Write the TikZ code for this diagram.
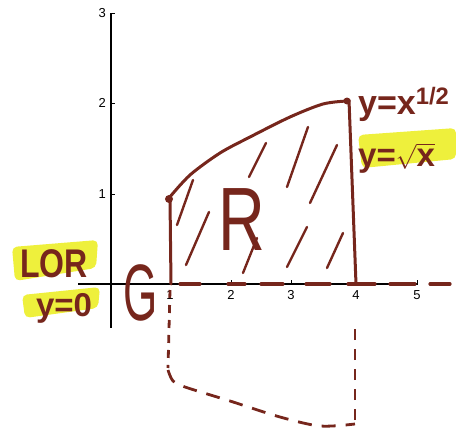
\documentclass[tikz,border=0pt]{standalone}
\usepackage{fontspec}
\setmainfont{Liberation Sans}
\usepackage{graphicx}
\definecolor{ink}{RGB}{118,38,28}
\definecolor{hl}{RGB}{238,240,60}
\tikzset{
  axisline/.style={black, line width=1.4pt},
  ticklab/.style={font=\fontsize{13}{13}\selectfont, inner sep=0pt},
  inkline/.style={ink, line width=3pt, line cap=round, line join=round},
  hatchline/.style={ink, line width=2.4pt, line cap=round},
  inkdash/.style={ink, line width=3.2pt, line cap=round},
  hand/.style={ink, inner sep=0pt},
  hlbox/.style={hl, rounded corners=5pt}
}
\begin{document}
\begin{tikzpicture}[x=1pt,y=-1pt]
\useasboundingbox (0,0) rectangle (456,431);
% highlights
\fill[hlbox] (12,247) -- (98,240) -- (96,268) -- (15,281) -- cycle;
\fill[hlbox] (22,295) -- (100,287) -- (98,308) -- (25,318) -- cycle;
\fill[hlbox] (358,135) -- (456,128) -- (456,159) -- (362,168) -- cycle;
% axes
\draw[axisline] (111,13) -- (111,328);
\draw[axisline] (78,284) -- (418,284);
\foreach \yy/\lab in {13/3,103/2,194/1} {
  \draw[axisline, line width=1pt] (111,\yy) -- (115,\yy);
  \node[ticklab, anchor=east] (yl\lab) at (106,\yy) {\lab};
}
\foreach \xx/\lab in {170/1,231/2,291/3,356/4,417/5} {
  \draw[axisline, line width=1pt] (\xx,284) -- (\xx,280);
  \node[ticklab, anchor=north] (xl\lab) at (\xx,290) {\lab};
}
% region boundary
\draw[inkline] plot[smooth] coordinates {(169,198) (190,175) (220,153) (250,137) (290,117) (323,104) (347,101)};
\fill[ink] (169,199) circle (4);
\fill[ink] (347,101) circle (3.5);
\draw[inkline] (170,199) -- (171,284);
\draw[inkline] (349,100) -- (356,284);
% hatching
\foreach \a/\b in {{(193,180)}/{(177,225)}, {(209,212)}/{(186,265)}, {(266,143)}/{(249,177)}, {(257,238)}/{(243,273)}, {(308,127)}/{(287,187)}, {(337,145)}/{(310,203)}, {(307,227)}/{(287,267)}, {(343,233)}/{(327,268)}}
  \draw[hatchline] \a -- \b;
% dashes on x axis
\foreach \s/\e in {180/200, 228/245, 261/283, 306/330, 348/375, 390/415, 430/450}
  \draw[inkdash] (\s,284) -- (\e,284);
% dashed reflected region
\draw[ink, line width=2.8pt, dash pattern=on 8pt off 7pt] (170,290) -- (168,368);
\draw[ink, line width=2.8pt, dash pattern=on 14pt off 10pt] plot[smooth] coordinates {(168,370) (173,381) (185,387) (230,401) (280,417) (320,426) (355,424)};
\draw[ink, line width=2.8pt, dash pattern=on 11pt off 9pt] (355,420) -- (355,322);
% labels
\node[hand, anchor=base, font=\bfseries\fontsize{40}{40}\selectfont] (lor) at (54,277) {\scalebox{0.8}[1]{LOR}};
\node[hand, anchor=base, font=\bfseries\fontsize{33}{33}\selectfont] (yzero) at (64,316) {y=0};
\node[hand, anchor=base, font=\fontsize{80}{80}\selectfont] (gg) at (141,320) {\scalebox{0.55}[1]{G}};
\node[hand, anchor=base, font=\fontsize{90}{90}\selectfont] (rr) at (242,250) {\scalebox{0.72}[1]{R}};
\node[hand, anchor=base west, font=\bfseries\fontsize{34}{34}\selectfont] (ypow) at (358,114) {y=x\textsuperscript{1/2}};
\node[hand, anchor=base west, font=\bfseries\fontsize{33}{33}\selectfont] (ysqrt) at (358,166) {y=$\sqrt{\mbox{x}}$};
\end{tikzpicture}
\end{document}
